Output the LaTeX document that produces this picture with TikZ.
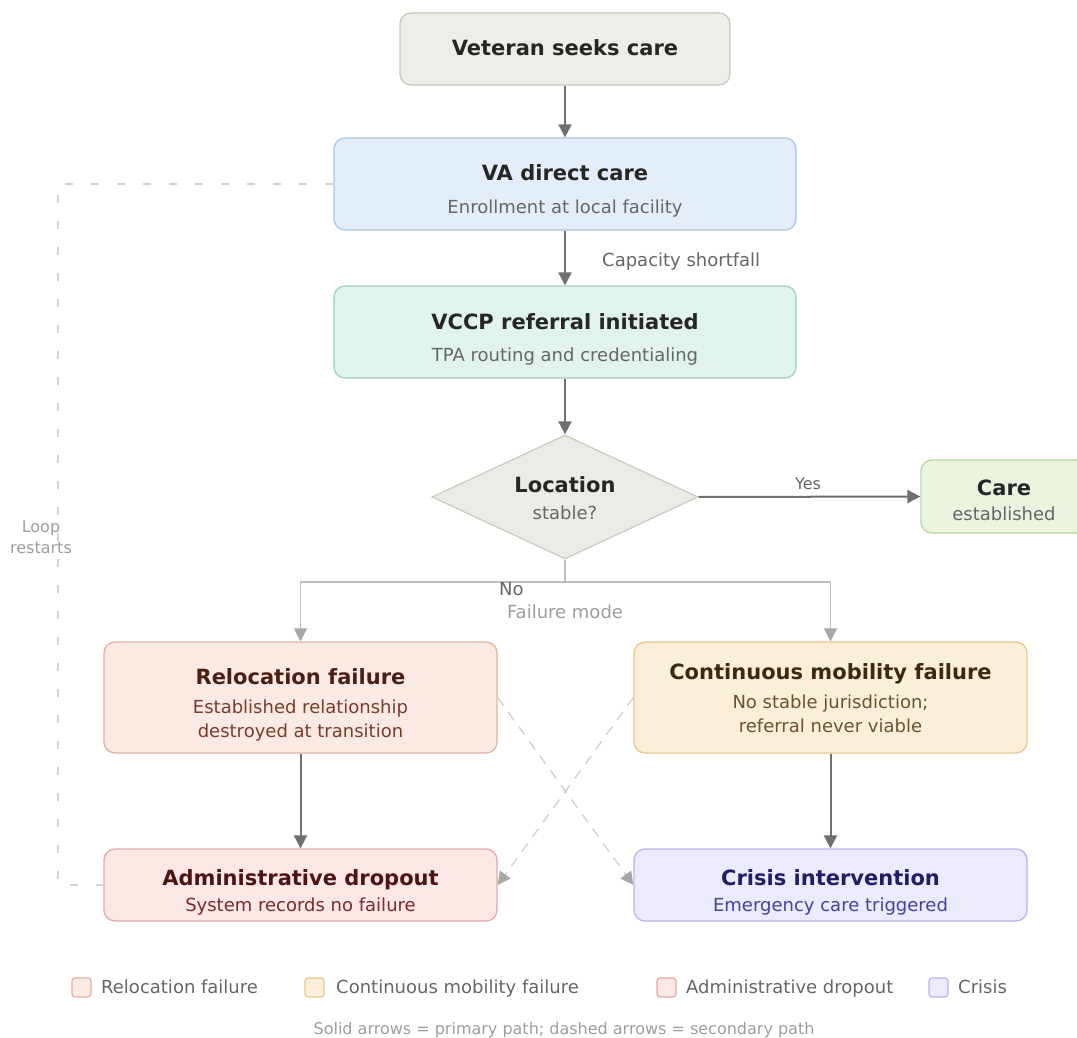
\documentclass[tikz,border=0pt]{standalone}
\usepackage{fontspec}
\setmainfont{DejaVu Sans}
\usetikzlibrary{arrows.meta,shapes.geometric}

% box colours
\definecolor{vetFill}{HTML}{EFEDE7}\definecolor{vetLine}{HTML}{CBC7BE}
\definecolor{vaFill}{HTML}{E4EEFA}\definecolor{vaLine}{HTML}{A9C6EA}
\definecolor{vccpFill}{HTML}{E0F4EC}\definecolor{vccpLine}{HTML}{9BD3BF}
\definecolor{locFill}{HTML}{EDEBE5}\definecolor{locLine}{HTML}{CFCBC2}
\definecolor{careFill}{HTML}{EAF4DF}\definecolor{careLine}{HTML}{B8D89D}
\definecolor{relFill}{HTML}{FBEAE3}\definecolor{relLine}{HTML}{E2B1A2}
\definecolor{contFill}{HTML}{FCEFD9}\definecolor{contLine}{HTML}{E6C88F}
\definecolor{admFill}{HTML}{FCE7E7}\definecolor{admLine}{HTML}{E6A9AA}
\definecolor{crisFill}{HTML}{ECEAFD}\definecolor{crisLine}{HTML}{BAB5EA}
% text colours
\definecolor{inkDark}{HTML}{262626}
\definecolor{inkSub}{HTML}{666666}
\definecolor{inkLight}{HTML}{9E9E9E}
\definecolor{relTitle}{HTML}{4A1F15}\definecolor{relSub}{HTML}{7A3B2A}
\definecolor{contTitle}{HTML}{3A2A14}\definecolor{contSub}{HTML}{6B5230}
\definecolor{admTitle}{HTML}{4D1414}\definecolor{admSub}{HTML}{7A2A2A}
\definecolor{crisTitle}{HTML}{231D66}\definecolor{crisSub}{HTML}{4840A0}
% connector colours
\definecolor{arrowGray}{HTML}{6F6F6F}
\definecolor{forkGray}{HTML}{BDBDB9}
\definecolor{forkHead}{HTML}{A8A8A3}
\definecolor{dashGray}{HTML}{D4D4D4}

\def\titlesize{\fontsize{21}{25}\selectfont\bfseries}
\def\subsize{\fontsize{18}{22}\selectfont}
\def\smallsize{\fontsize{16}{19}\selectfont}

\tikzset{
  card/.style={draw, rounded corners=11pt, line width=1.3pt, inner sep=0pt},
  ttl/.style={anchor=base, font=\titlesize, inner sep=0pt},
  sub/.style={anchor=base, font=\subsize, inner sep=0pt},
  main/.style={draw=arrowGray, line width=2pt, -{Triangle[length=13pt,width=13pt]}},
  fork/.style={draw=forkGray, line width=1.6pt, -{Triangle[length=13pt,width=13pt,color=forkHead]}},
  second/.style={draw=dashGray, line width=1.5pt, dash pattern=on 10pt off 8pt,
    -{Triangle[length=13pt,width=13pt,color=forkHead]}},
  key/.style={draw, rounded corners=3pt, line width=1.2pt, minimum width=19pt, minimum height=19pt, inner sep=0pt},
  keytext/.style={anchor=base west, font=\subsize, text=inkSub, inner sep=0pt},
}

\begin{document}
\begin{tikzpicture}[x=1pt,y=-1pt]

\fill[white] (0,0) rectangle (1077,1038);
\useasboundingbox (0,0) rectangle (1077,1038);

% Main column
\node[card, fill=vetFill, draw=vetLine, minimum width=330pt, minimum height=72pt] (vet) at (565,49) {};
\node[ttl, text=inkDark] (vet-t) at (565,56) {Veteran seeks care};

\node[card, fill=vaFill, draw=vaLine, minimum width=462pt, minimum height=92pt] (va) at (565,184) {};
\node[ttl, text=inkDark] (va-t) at (565,181) {VA direct care};
\node[sub, text=inkSub] (va-s) at (565,214) {Enrollment at local facility};

\node[card, fill=vccpFill, draw=vccpLine, minimum width=462pt, minimum height=92pt] (vccp) at (565,332) {};
\node[ttl, text=inkDark] (vccp-t) at (565,329) {VCCP referral initiated};
\node[sub, text=inkSub] (vccp-s) at (565,361) {TPA routing and credentialing};

\node[diamond, draw=locLine, fill=locFill, line width=1.3pt, inner sep=0pt, aspect=2.145,
      minimum width=266pt, minimum height=124pt] (loc) at (565,497) {};
\node[ttl, text=inkDark] (loc-t) at (565,492) {Location};
\node[sub, text=inkSub] (loc-s) at (565,519) {stable?};

\node[card, fill=careFill, draw=careLine, minimum width=166pt, minimum height=73pt] (care) at (1004,496.5) {};
\node[ttl, text=inkDark] (care-t) at (1004,495) {Care};
\node[sub, text=inkSub] (care-s) at (1004,520) {established};

% Failure boxes
\node[card, fill=relFill, draw=relLine, minimum width=393pt, minimum height=111pt] (rel) at (300.5,697.5) {};
\node[ttl, text=relTitle] (rel-t) at (300.5,684) {Relocation failure};
\node[sub, text=relSub] (rel-s1) at (300.5,713) {Established relationship};
\node[sub, text=relSub] (rel-s2) at (300.5,737) {destroyed at transition};

\node[card, fill=contFill, draw=contLine, minimum width=393pt, minimum height=111pt] (cont) at (830.5,697.5) {};
\node[ttl, text=contTitle] (cont-t) at (830.5,679) {Continuous mobility failure};
\node[sub, text=contSub] (cont-s1) at (830.5,708) {No stable jurisdiction;};
\node[sub, text=contSub] (cont-s2) at (830.5,732) {referral never viable};

\node[card, fill=admFill, draw=admLine, minimum width=393pt, minimum height=72pt] (adm) at (300.5,885) {};
\node[ttl, text=admTitle] (adm-t) at (300.5,885) {Administrative dropout};
\node[sub, text=admSub] (adm-s) at (300.5,911) {System records no failure};

\node[card, fill=crisFill, draw=crisLine, minimum width=393pt, minimum height=72pt] (cris) at (830.5,885) {};
\node[ttl, text=crisTitle] (cris-t) at (830.5,885) {Crisis intervention};
\node[sub, text=crisSub] (cris-s) at (830.5,911) {Emergency care triggered};

% Primary path
\draw[main] (vet) -- (va);
\draw[main] (va) -- (vccp);
\draw[main] (vccp) -- (loc);
\draw[main] (loc.east) -- (care.west);
\draw[main] (rel) -- (adm);
\draw[main] (cont) -- (cris);

\node[sub, anchor=base west, text=inkSub] (cap) at (602,266) {Capacity shortfall};
\node[anchor=base, font=\smallsize, text=inkSub] (yes) at (808,489) {Yes};

% Failure fork
\coordinate (fork) at (565,582);
\draw[fork] (loc.south) -- (fork) -| (rel.north);
\draw[fork] (fork) -| (cont.north);
\node[anchor=base west, font=\subsize, text=inkSub, inner sep=0pt] (no) at (499,595) {No};
\node[anchor=base, font=\subsize, text=inkLight, inner sep=0pt] (fmode) at (565,618) {Failure mode};

% Secondary paths
\draw[second] (rel.east) -- (cris.west);
\draw[second] (cont.west) -- (adm.west -| adm.east);
\coordinate (loopcorner) at (58,184);
\draw[draw=dashGray, line width=1.5pt, dash pattern=on 8pt off 18pt] (va.west) -- (loopcorner) |- (adm.west);
\node[anchor=base, font=\smallsize, text=inkLight, inner sep=0pt] (loop1) at (41,532) {Loop};
\node[anchor=base, font=\smallsize, text=inkLight, inner sep=0pt] (loop2) at (41,553) {restarts};

% Legend
\node[key, fill=relFill, draw=relLine] (k1) at (81.5,987.5) {};
\node[keytext] (k1-t) at (101,993) {Relocation failure};
\node[key, fill=contFill, draw=contLine] (k2) at (314.5,987.5) {};
\node[keytext] (k2-t) at (336,993) {Continuous mobility failure};
\node[key, fill=admFill, draw=admLine] (k3) at (666.5,987.5) {};
\node[keytext] (k3-t) at (686,993) {Administrative dropout};
\node[key, fill=crisFill, draw=crisLine] (k4) at (938.5,987.5) {};
\node[keytext] (k4-t) at (958,993) {Crisis};

\node[anchor=base, font=\smallsize, text=inkLight, inner sep=0pt] (note) at (564,1034)
  {Solid arrows = primary path; dashed arrows = secondary path};

\end{tikzpicture}
\end{document}
